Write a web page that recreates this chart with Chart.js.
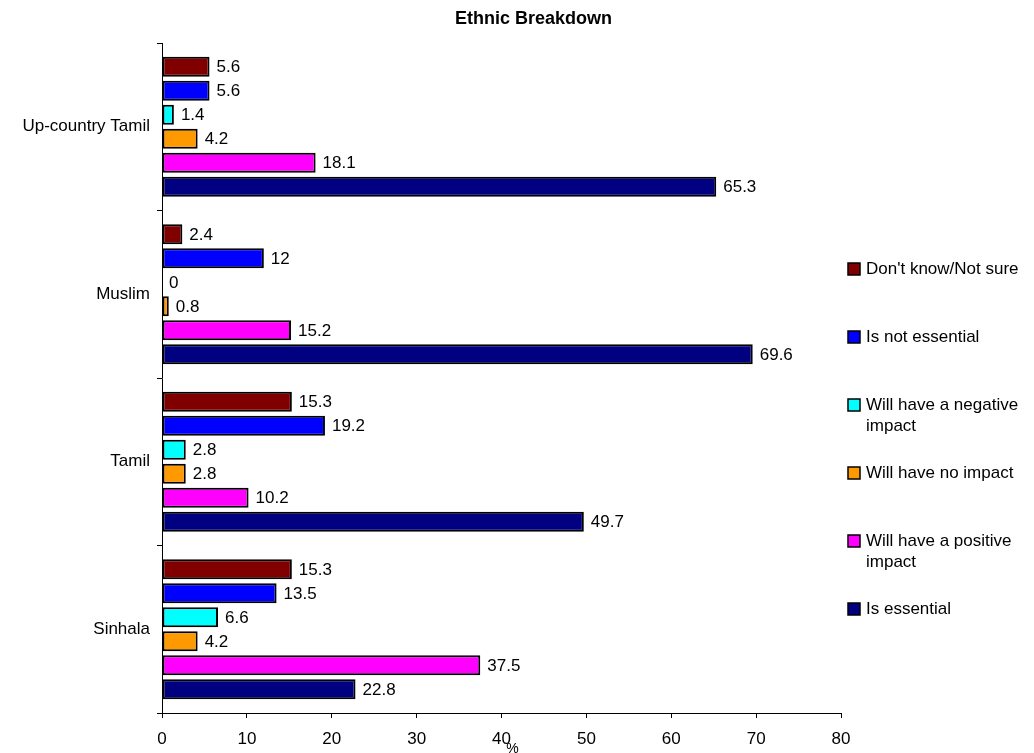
<!DOCTYPE html>
<html>
<head>
  <title>Ethnic Breakdown</title>
  <script src="https://cdn.jsdelivr.net/npm/chart.js@4.4.0/dist/chart.umd.min.js"></script>
  <style>
    body {
      margin: 0;
      background: #fff;
      overflow: hidden;
    }
    #wrap {
      position: relative;
      width: 1034px;
      height: 753px;
    }
  </style>
</head>
<body>

<div id="wrap">
  <canvas id="ethnic" width="1034" height="753"></canvas>
</div>

<script>
  // data
  const groups = ['Up-country Tamil', 'Muslim', 'Tamil', 'Sinhala'];

  const seriesNames = [
    "Don't know/Not sure",
    'Is not essential',
    'Will have a negative impact',
    'Will have no impact',
    'Will have a positive impact',
    'Is essential'
  ];

  const dontKnow     = [5.6, 2.4, 15.3, 15.3];
  const notEssential = [5.6, 12, 19.2, 13.5];
  const negative     = [1.4, 0, 2.8, 6.6];
  const noImpact     = [4.2, 0.8, 2.8, 4.2];
  const positive     = [18.1, 15.2, 10.2, 37.5];
  const essential    = [65.3, 69.6, 49.7, 22.8];

  const xTicks = [0, 10, 20, 30, 40, 50, 60, 70, 80];

  const colors = ['#800000', '#0000ff', '#00ffff', '#ff9900', '#ff00ff', '#000080'];

  const allValues = [dontKnow, notEssential, negative, noImpact, positive, essential];

  const FONT = "Arial, 'Liberation Sans', sans-serif";
  Chart.defaults.font.family = FONT;
  Chart.defaults.font.size = 17;
  Chart.defaults.color = '#000';

  const datasets = allValues.map((vals, i) => {
    return {
      label: seriesNames[i],
      data: vals,
      backgroundColor: colors[i],
      borderColor: '#000',
      borderWidth: ctx => (ctx.raw === 0 ? 0 : 2),
      borderSkipped: false,
      categoryPercentage: 0.86,
      barPercentage: 0.83
    };
  });

  // numbers at the end of each bar
  const valueLabels = {
    id: 'valueLabels',
    afterDatasetsDraw(chart) {
      const ctx = chart.ctx;
      ctx.save();
      ctx.font = '17px ' + FONT;
      ctx.fillStyle = '#000';
      ctx.textAlign = 'left';
      ctx.textBaseline = 'middle';
      chart.data.datasets.forEach((ds, i) => {
        const meta = chart.getDatasetMeta(i);
        meta.data.forEach((bar, j) => {
          ctx.fillText(String(ds.data[j]), bar.x + 7, bar.y + 1);
        });
      });
      ctx.restore();
    }
  };

  // title + "%" label + legend on the right
  const extras = {
    id: 'extras',
    afterDraw(chart) {
      const ctx = chart.ctx;
      const area = chart.chartArea;
      ctx.save();
      ctx.fillStyle = '#000';

      ctx.font = 'bold 18px ' + FONT;
      ctx.textAlign = 'center';
      ctx.textBaseline = 'middle';
      ctx.fillText('Ethnic Breakdown', (area.left + area.right) / 2 + 32, 19);

      ctx.font = '14px ' + FONT;
      ctx.textBaseline = 'top';
      ctx.fillText('%', (area.left + area.right) / 2 + 11, 742);

      // legend
      ctx.font = '17px ' + FONT;
      ctx.textAlign = 'left';
      ctx.textBaseline = 'middle';
      const boxX = area.right + 7;
      const textX = area.right + 25;
      const maxW = chart.width - textX;
      chart.data.datasets.forEach((ds, i) => {
        const y = 269 + 68 * i;
        ctx.fillStyle = ds.backgroundColor;
        ctx.fillRect(boxX, y - 6, 12, 12);
        ctx.strokeStyle = '#000';
        ctx.lineWidth = 1.5;
        ctx.strokeRect(boxX, y - 6, 12, 12);

        ctx.fillStyle = '#000';
        const words = ds.label.split(' ');
        let line = '';
        let ly = y;
        words.forEach(w => {
          const test = line ? line + ' ' + w : w;
          if (ctx.measureText(test).width > maxW && line) {
            ctx.fillText(line, textX, ly);
            line = w;
            ly += 21;
          } else {
            line = test;
          }
        });
        ctx.fillText(line, textX, ly);
      });
      ctx.restore();
    }
  };

  const chart = new Chart(document.getElementById('ethnic').getContext('2d'), {
    type: 'bar',
    data: {
      labels: groups,
      datasets: datasets
    },
    options: {
      indexAxis: 'y',
      responsive: false,
      animation: false,
      layout: {
        padding: { left: 0, right: 193, top: 43, bottom: 0 }
      },
      plugins: {
        legend: { display: false },
        title: { display: false },
        tooltip: { enabled: false }
      },
      scales: {
        x: {
          min: xTicks[0],
          max: xTicks[xTicks.length - 1],
          afterBuildTicks: scale => {
            scale.ticks = xTicks.map(v => ({ value: v }));
          },
          afterFit: scale => { scale.height = 40; },
          grid: {
            drawOnChartArea: false,
            drawTicks: true,
            tickLength: 5,
            color: '#000'
          },
          border: { color: '#000', width: 1 },
          ticks: { padding: 11, color: '#000', font: { size: 17 } }
        },
        y: {
          afterFit: scale => { scale.width = 162; },
          grid: {
            drawOnChartArea: false,
            drawTicks: true,
            tickLength: 5,
            offset: true,
            color: '#000'
          },
          border: { color: '#000', width: 1 },
          ticks: { padding: 7, color: '#000', font: { size: 17 } }
        }
      }
    },
    plugins: [valueLabels, extras]
  });
</script>

</body>
</html>
